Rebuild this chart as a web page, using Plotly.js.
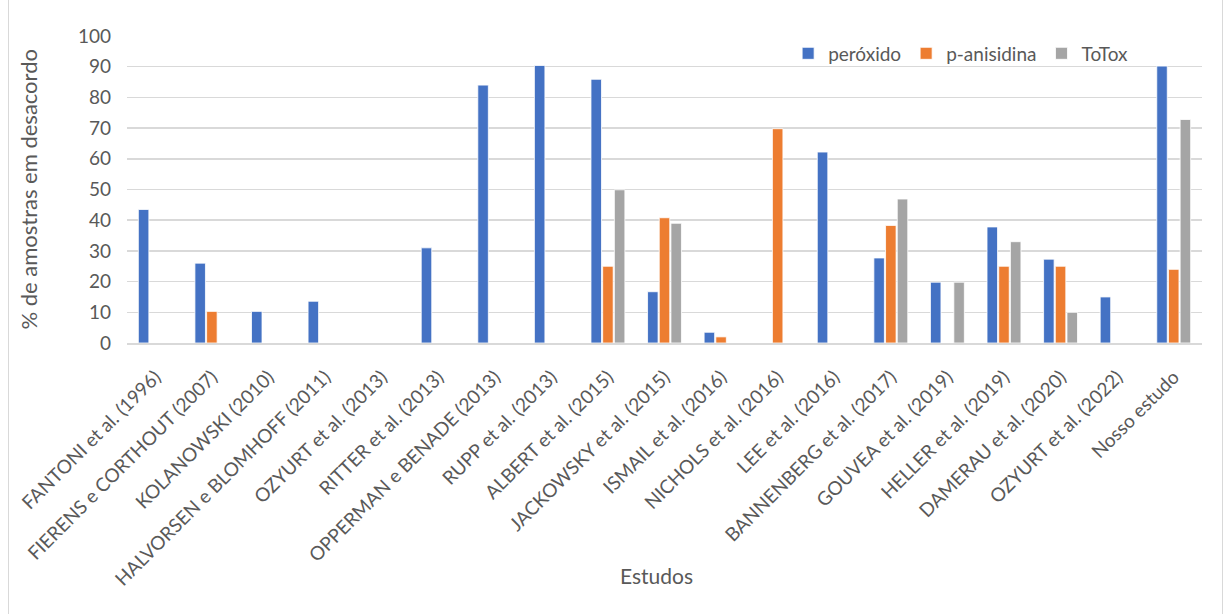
<!DOCTYPE html>
<html>
<head>
<meta charset="utf-8">
<script src="https://cdn.plot.ly/plotly-3.0.1.min.js"></script>
<style>
  html, body { margin: 0; padding: 0; background: #fff; }
  #frame { position: relative; width: 1224px; height: 614px; }
  #edge { position: absolute; left: 8px; top: -2px; width: 1213px; height: 618px;
          border-left: 1.5px solid #d9d9d9; border-right: 1.5px solid #d9d9d9; pointer-events: none; }
  #chart { position: absolute; left: 0; top: 0; width: 1224px; height: 614px; }
</style>
</head>
<body>
<div id="frame">
  <div id="chart"></div>
  <div id="edge"></div>
</div>
<script>
// Studies compared (x categories)
const estudos = [
  "FANTONI et al. (1996)",
  "FIERENS e CORTHOUT (2007)",
  "KOLANOWSKI (2010)",
  "HALVORSEN e BLOMHOFF (2011)",
  "OZYURT et al. (2013)",
  "RITTER et al. (2013)",
  "OPPERMAN e BENADE (2013)",
  "RUPP et al. (2013)",
  "ALBERT et al. (2015)",
  "JACKOWSKY et al. (2015)",
  "ISMAIL et al. (2016)",
  "NICHOLS et al. (2016)",
  "LEE et al. (2016)",
  "BANNENBERG et al. (2017)",
  "GOUVEA et al. (2019)",
  "HELLER et al. (2019)",
  "DAMERAU et al. (2020)",
  "OZYURT et al. (2022)",
  "Nosso estudo"
];

// % of samples out of specification, per index (null = not evaluated)
const peroxido = [43.5, 26, 10.3, 13.6, null, 31, 84, 90.4, 85.9, 16.7, 3.5, null, 62.2, 27.7, 19.8, 37.8, 27.3, 15, 90.2];
const pAnisidina = [null, 10.3, null, null, null, null, null, null, 25, 40.8, 2, 69.8, null, 38.3, null, 25, 25, null, 24];
const totox = [null, null, null, null, null, null, null, null, 49.9, 39, null, null, null, 46.9, 19.8, 33, 10, null, 72.8];

const yTicks = [0, 10, 20, 30, 40, 50, 60, 70, 80, 90, 100];

const fontFamily = "Lato, 'Open Sans', sans-serif";
const textColor = "#595959";

function barTrace(name, values, color) {
  return {
    type: "bar",
    name: name,
    x: estudos,
    y: values,
    marker: { color: color, line: { color: "#ffffff", width: 0.8 } },
    hoverinfo: "x+y+name"
  };
}

const data = [
  barTrace("peróxido", peroxido, "#4472c4"),
  barTrace("p-anisidina", pAnisidina, "#ed7d31"),
  barTrace("ToTox", totox, "#a5a5a5")
];

const layout = {
  width: 1224,
  height: 614,
  margin: { l: 127, r: 22, t: 36, b: 271, pad: 0 },
  paper_bgcolor: "#ffffff",
  plot_bgcolor: "#ffffff",
  font: { family: fontFamily, color: textColor },
  barmode: "group",
  bargap: 0.38,
  bargroupgap: 0.1,
  showlegend: true,
  legend: {
    orientation: "h",
    x: 0.615, y: 1.005,
    xanchor: "left", yanchor: "top",
    font: { family: fontFamily, size: 19, color: textColor },
    bgcolor: "rgba(0,0,0,0)",
    itemwidth: 30,
    traceorder: "normal"
  },
  xaxis: {
    type: "category",
    tickangle: -45,
    tickfont: { family: fontFamily, size: 19, color: textColor },
    showgrid: false,
    showline: true,
    linecolor: "#d9d9d9",
    linewidth: 1.5,
    ticks: "",
    ticklabelstandoff: 14,
    fixedrange: true
  },
  yaxis: {
    range: [0, 100],
    tickvals: yTicks,
    ticktext: yTicks.map(String),
    tickfont: { family: fontFamily, size: 19, color: textColor },
    showgrid: true,
    gridcolor: "#d9d9d9",
    gridwidth: 1.5,
    zeroline: false,
    showline: false,
    ticks: "",
    ticklabelstandoff: 15,
    fixedrange: true
  },
  annotations: [
    {
      text: "% de amostras em desacordo",
      xref: "paper", yref: "paper",
      x: -0.092, y: 0.5,
      xanchor: "center", yanchor: "middle",
      textangle: -90,
      showarrow: false,
      font: { family: fontFamily, size: 22, color: textColor }
    },
    {
      text: "Estudos",
      xref: "paper", yref: "paper",
      x: (656 - 127) / 1075, y: -(575 - 343) / 307,
      xanchor: "center", yanchor: "middle",
      showarrow: false,
      font: { family: fontFamily, size: 21, color: textColor }
    }
  ]
};

Plotly.newPlot("chart", data, layout, { displayModeBar: false, staticPlot: true });
</script>
</body>
</html>
